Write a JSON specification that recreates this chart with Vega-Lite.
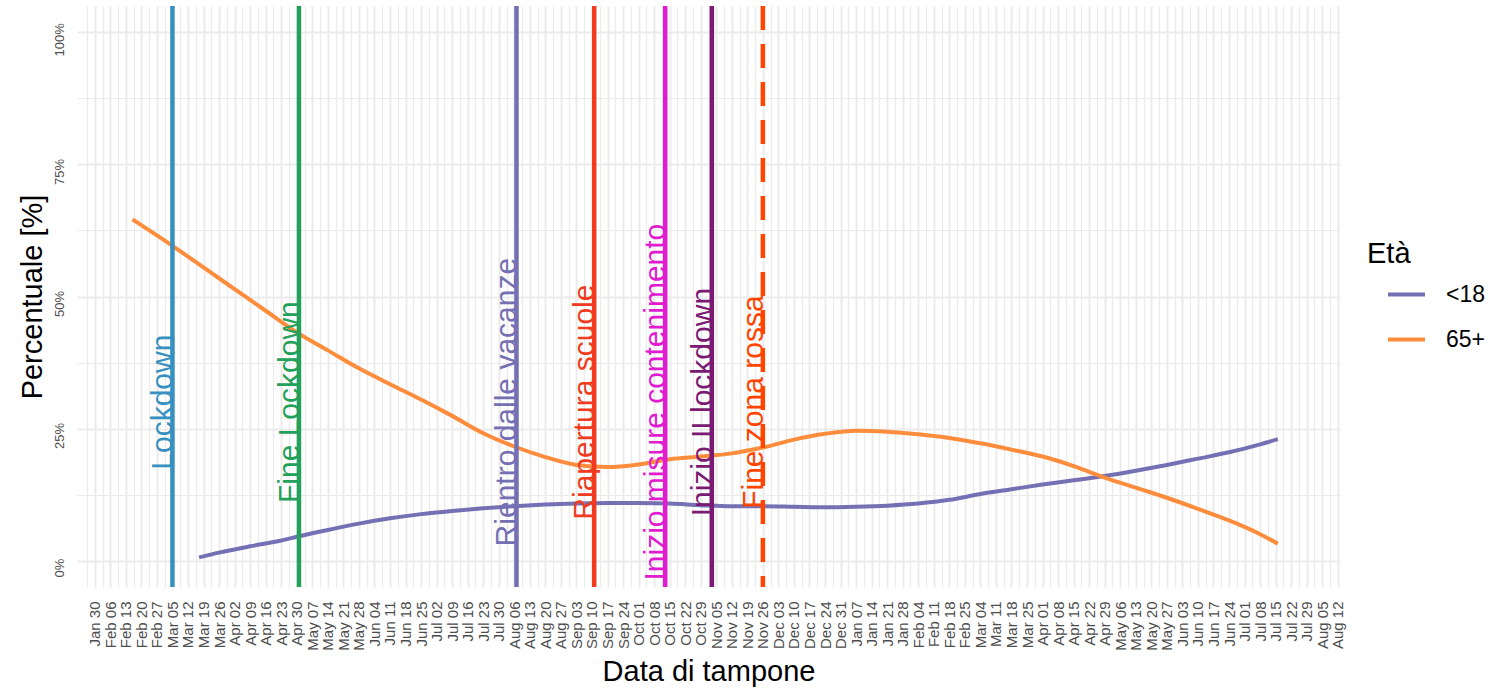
{
  "$schema": "https://vega.github.io/schema/vega-lite/v6.json",
  "width": 1263,
  "height": 581,
  "autosize": {"type": "none"},
  "padding": {"left": 77, "top": 6, "right": 150, "bottom": 103},
  "background": "white",
  "config": {"view": {"stroke": null}, "font": "Liberation Sans"},
  "datasets": {
    "eventi": [
      {"date": "2020-03-05", "evento": "Lockdown"},
      {"date": "2020-05-01", "evento": "Fine Lockdown"},
      {"date": "2020-08-07", "evento": "Rientro dalle vacanze"},
      {"date": "2020-09-11", "evento": "Riapertura scuole"},
      {"date": "2020-10-13", "evento": "Inizio misure contenimento"},
      {"date": "2020-11-03", "evento": "Inizio II lockdown"},
      {"date": "2020-11-26", "evento": "Fine zona rossa"}
    ],
    "curve": [
      {"date": "2020-03-17", "eta": "<18", "value": 0.6},
      {"date": "2020-03-26", "eta": "<18", "value": 1.5},
      {"date": "2020-04-09", "eta": "<18", "value": 2.7},
      {"date": "2020-04-23", "eta": "<18", "value": 3.8},
      {"date": "2020-04-30", "eta": "<18", "value": 4.5},
      {"date": "2020-05-14", "eta": "<18", "value": 5.8},
      {"date": "2020-05-28", "eta": "<18", "value": 7.0},
      {"date": "2020-06-11", "eta": "<18", "value": 8.0},
      {"date": "2020-06-25", "eta": "<18", "value": 8.8},
      {"date": "2020-07-09", "eta": "<18", "value": 9.4},
      {"date": "2020-07-23", "eta": "<18", "value": 9.9},
      {"date": "2020-08-06", "eta": "<18", "value": 10.3},
      {"date": "2020-08-20", "eta": "<18", "value": 10.6},
      {"date": "2020-09-03", "eta": "<18", "value": 10.8},
      {"date": "2020-09-17", "eta": "<18", "value": 10.9},
      {"date": "2020-10-01", "eta": "<18", "value": 10.9},
      {"date": "2020-10-15", "eta": "<18", "value": 10.8},
      {"date": "2020-10-29", "eta": "<18", "value": 10.5},
      {"date": "2020-11-12", "eta": "<18", "value": 10.3},
      {"date": "2020-11-26", "eta": "<18", "value": 10.3},
      {"date": "2020-12-10", "eta": "<18", "value": 10.2},
      {"date": "2020-12-24", "eta": "<18", "value": 10.1},
      {"date": "2021-01-07", "eta": "<18", "value": 10.2},
      {"date": "2021-01-21", "eta": "<18", "value": 10.4},
      {"date": "2021-02-04", "eta": "<18", "value": 10.8},
      {"date": "2021-02-18", "eta": "<18", "value": 11.5},
      {"date": "2021-03-04", "eta": "<18", "value": 12.6},
      {"date": "2021-03-18", "eta": "<18", "value": 13.5},
      {"date": "2021-04-01", "eta": "<18", "value": 14.4},
      {"date": "2021-04-15", "eta": "<18", "value": 15.2},
      {"date": "2021-04-29", "eta": "<18", "value": 16.0},
      {"date": "2021-05-13", "eta": "<18", "value": 17.0},
      {"date": "2021-05-27", "eta": "<18", "value": 18.1},
      {"date": "2021-06-10", "eta": "<18", "value": 19.3},
      {"date": "2021-06-24", "eta": "<18", "value": 20.5},
      {"date": "2021-07-08", "eta": "<18", "value": 22.0},
      {"date": "2021-07-16", "eta": "<18", "value": 23.0},
      {"date": "2020-02-16", "eta": "65+", "value": 64.6},
      {"date": "2020-03-05", "eta": "65+", "value": 59.6},
      {"date": "2020-03-19", "eta": "65+", "value": 55.5},
      {"date": "2020-04-02", "eta": "65+", "value": 51.4},
      {"date": "2020-04-16", "eta": "65+", "value": 47.3},
      {"date": "2020-04-30", "eta": "65+", "value": 43.2},
      {"date": "2020-05-14", "eta": "65+", "value": 39.8},
      {"date": "2020-05-28", "eta": "65+", "value": 36.4},
      {"date": "2020-06-11", "eta": "65+", "value": 33.4},
      {"date": "2020-06-25", "eta": "65+", "value": 30.5},
      {"date": "2020-07-09", "eta": "65+", "value": 27.4},
      {"date": "2020-07-23", "eta": "65+", "value": 24.1},
      {"date": "2020-08-06", "eta": "65+", "value": 21.6},
      {"date": "2020-08-20", "eta": "65+", "value": 19.6},
      {"date": "2020-09-03", "eta": "65+", "value": 18.1},
      {"date": "2020-09-17", "eta": "65+", "value": 17.7},
      {"date": "2020-10-01", "eta": "65+", "value": 18.2},
      {"date": "2020-10-15", "eta": "65+", "value": 19.2},
      {"date": "2020-10-29", "eta": "65+", "value": 19.7},
      {"date": "2020-11-12", "eta": "65+", "value": 20.3},
      {"date": "2020-11-26", "eta": "65+", "value": 21.4},
      {"date": "2020-12-10", "eta": "65+", "value": 22.9},
      {"date": "2020-12-24", "eta": "65+", "value": 24.0},
      {"date": "2021-01-07", "eta": "65+", "value": 24.6},
      {"date": "2021-01-21", "eta": "65+", "value": 24.4},
      {"date": "2021-02-04", "eta": "65+", "value": 23.9},
      {"date": "2021-02-18", "eta": "65+", "value": 23.2},
      {"date": "2021-03-04", "eta": "65+", "value": 22.2},
      {"date": "2021-03-18", "eta": "65+", "value": 21.0},
      {"date": "2021-04-01", "eta": "65+", "value": 19.7},
      {"date": "2021-04-15", "eta": "65+", "value": 17.9},
      {"date": "2021-04-29", "eta": "65+", "value": 15.7},
      {"date": "2021-05-13", "eta": "65+", "value": 13.8},
      {"date": "2021-05-27", "eta": "65+", "value": 11.9},
      {"date": "2021-06-10", "eta": "65+", "value": 9.8},
      {"date": "2021-06-24", "eta": "65+", "value": 7.6},
      {"date": "2021-07-08", "eta": "65+", "value": 5.0},
      {"date": "2021-07-16", "eta": "65+", "value": 3.2}
    ]
  },
  "layer": [
    {
      "data": {"name": "curve"},
      "mark": {"type": "line", "opacity": 0},
      "encoding": {
        "x": {
          "field": "date", "type": "temporal",
          "scale": {"domain": [{"year": 2020, "month": 1, "date": 22}, {"year": 2021, "month": 8, "date": 13}], "nice": false},
          "axis": {
            "orient": "top", "title": null, "labels": false, "ticks": false, "tickSize": 0, "domain": false,
            "grid": true, "gridColor": "#ebebeb", "gridWidth": 1.2,
            "values": [
              {"year": 2020, "month": 1, "date": 26, "hours": 12}, {"year": 2020, "month": 2, "date": 2, "hours": 12}, {"year": 2020, "month": 2, "date": 9, "hours": 12}, {"year": 2020, "month": 2, "date": 16, "hours": 12}, {"year": 2020, "month": 2, "date": 23, "hours": 12},
              {"year": 2020, "month": 3, "date": 1, "hours": 12}, {"year": 2020, "month": 3, "date": 8, "hours": 12}, {"year": 2020, "month": 3, "date": 15, "hours": 12}, {"year": 2020, "month": 3, "date": 22, "hours": 12}, {"year": 2020, "month": 3, "date": 29, "hours": 12},
              {"year": 2020, "month": 4, "date": 5, "hours": 12}, {"year": 2020, "month": 4, "date": 12, "hours": 12}, {"year": 2020, "month": 4, "date": 19, "hours": 12}, {"year": 2020, "month": 4, "date": 26, "hours": 12},
              {"year": 2020, "month": 5, "date": 3, "hours": 12}, {"year": 2020, "month": 5, "date": 10, "hours": 12}, {"year": 2020, "month": 5, "date": 17, "hours": 12}, {"year": 2020, "month": 5, "date": 24, "hours": 12}, {"year": 2020, "month": 5, "date": 31, "hours": 12},
              {"year": 2020, "month": 6, "date": 7, "hours": 12}, {"year": 2020, "month": 6, "date": 14, "hours": 12}, {"year": 2020, "month": 6, "date": 21, "hours": 12}, {"year": 2020, "month": 6, "date": 28, "hours": 12},
              {"year": 2020, "month": 7, "date": 5, "hours": 12}, {"year": 2020, "month": 7, "date": 12, "hours": 12}, {"year": 2020, "month": 7, "date": 19, "hours": 12}, {"year": 2020, "month": 7, "date": 26, "hours": 12},
              {"year": 2020, "month": 8, "date": 2, "hours": 12}, {"year": 2020, "month": 8, "date": 9, "hours": 12}, {"year": 2020, "month": 8, "date": 16, "hours": 12}, {"year": 2020, "month": 8, "date": 23, "hours": 12}, {"year": 2020, "month": 8, "date": 30, "hours": 12},
              {"year": 2020, "month": 9, "date": 6, "hours": 12}, {"year": 2020, "month": 9, "date": 13, "hours": 12}, {"year": 2020, "month": 9, "date": 20, "hours": 12}, {"year": 2020, "month": 9, "date": 27, "hours": 12},
              {"year": 2020, "month": 10, "date": 4, "hours": 12}, {"year": 2020, "month": 10, "date": 11, "hours": 12}, {"year": 2020, "month": 10, "date": 18, "hours": 12}, {"year": 2020, "month": 10, "date": 25, "hours": 12},
              {"year": 2020, "month": 11, "date": 1, "hours": 12}, {"year": 2020, "month": 11, "date": 8, "hours": 12}, {"year": 2020, "month": 11, "date": 15, "hours": 12}, {"year": 2020, "month": 11, "date": 22, "hours": 12}, {"year": 2020, "month": 11, "date": 29, "hours": 12},
              {"year": 2020, "month": 12, "date": 6, "hours": 12}, {"year": 2020, "month": 12, "date": 13, "hours": 12}, {"year": 2020, "month": 12, "date": 20, "hours": 12}, {"year": 2020, "month": 12, "date": 27, "hours": 12},
              {"year": 2021, "month": 1, "date": 3, "hours": 12}, {"year": 2021, "month": 1, "date": 10, "hours": 12}, {"year": 2021, "month": 1, "date": 17, "hours": 12}, {"year": 2021, "month": 1, "date": 24, "hours": 12}, {"year": 2021, "month": 1, "date": 31, "hours": 12},
              {"year": 2021, "month": 2, "date": 7, "hours": 12}, {"year": 2021, "month": 2, "date": 14, "hours": 12}, {"year": 2021, "month": 2, "date": 21, "hours": 12}, {"year": 2021, "month": 2, "date": 28, "hours": 12},
              {"year": 2021, "month": 3, "date": 7, "hours": 12}, {"year": 2021, "month": 3, "date": 14, "hours": 12}, {"year": 2021, "month": 3, "date": 21, "hours": 12}, {"year": 2021, "month": 3, "date": 28, "hours": 12},
              {"year": 2021, "month": 4, "date": 4, "hours": 12}, {"year": 2021, "month": 4, "date": 11, "hours": 12}, {"year": 2021, "month": 4, "date": 18, "hours": 12}, {"year": 2021, "month": 4, "date": 25, "hours": 12},
              {"year": 2021, "month": 5, "date": 2, "hours": 12}, {"year": 2021, "month": 5, "date": 9, "hours": 12}, {"year": 2021, "month": 5, "date": 16, "hours": 12}, {"year": 2021, "month": 5, "date": 23, "hours": 12}, {"year": 2021, "month": 5, "date": 30, "hours": 12},
              {"year": 2021, "month": 6, "date": 6, "hours": 12}, {"year": 2021, "month": 6, "date": 13, "hours": 12}, {"year": 2021, "month": 6, "date": 20, "hours": 12}, {"year": 2021, "month": 6, "date": 27, "hours": 12},
              {"year": 2021, "month": 7, "date": 4, "hours": 12}, {"year": 2021, "month": 7, "date": 11, "hours": 12}, {"year": 2021, "month": 7, "date": 18, "hours": 12}, {"year": 2021, "month": 7, "date": 25, "hours": 12},
              {"year": 2021, "month": 8, "date": 1, "hours": 12}, {"year": 2021, "month": 8, "date": 8, "hours": 12}
            ]
          }
        },
        "y": {
          "field": "value", "type": "quantitative",
          "scale": {"domain": [-5, 105], "nice": false, "zero": false},
          "axis": {"orient": "right", "title": null, "labels": false, "ticks": false, "tickSize": 0, "domain": false, "grid": true, "gridColor": "#ebebeb", "gridWidth": 1.2, "values": [12.5, 37.5, 62.5, 87.5]}
        }
      }
    },
    {
      "data": {"name": "curve"},
      "mark": {"type": "line", "strokeWidth": 4, "interpolate": "monotone"},
      "encoding": {
        "x": {
          "field": "date", "type": "temporal",
          "axis": {
            "orient": "bottom", "format": "%b %d", "labelAngle": 270, "labelAlign": "right", "labelBaseline": "middle",
            "labelFontSize": 15, "labelColor": "#4d4d4d", "labelPadding": 14, "ticks": false, "tickSize": 0, "domain": false,
            "labelOverlap": false, "labelFlush": false, "labelBound": false,
            "grid": true, "gridColor": "#ebebeb", "gridWidth": 2,
            "title": "Data di tampone", "titleFontSize": 29, "titleFontWeight": "normal", "titleColor": "#000000", "titleY": 93, "titleBaseline": "alphabetic",
            "values": [
              {"year": 2020, "month": 1, "date": 30}, {"year": 2020, "month": 2, "date": 6}, {"year": 2020, "month": 2, "date": 13}, {"year": 2020, "month": 2, "date": 20}, {"year": 2020, "month": 2, "date": 27},
              {"year": 2020, "month": 3, "date": 5}, {"year": 2020, "month": 3, "date": 12}, {"year": 2020, "month": 3, "date": 19}, {"year": 2020, "month": 3, "date": 26},
              {"year": 2020, "month": 4, "date": 2}, {"year": 2020, "month": 4, "date": 9}, {"year": 2020, "month": 4, "date": 16}, {"year": 2020, "month": 4, "date": 23}, {"year": 2020, "month": 4, "date": 30},
              {"year": 2020, "month": 5, "date": 7}, {"year": 2020, "month": 5, "date": 14}, {"year": 2020, "month": 5, "date": 21}, {"year": 2020, "month": 5, "date": 28},
              {"year": 2020, "month": 6, "date": 4}, {"year": 2020, "month": 6, "date": 11}, {"year": 2020, "month": 6, "date": 18}, {"year": 2020, "month": 6, "date": 25},
              {"year": 2020, "month": 7, "date": 2}, {"year": 2020, "month": 7, "date": 9}, {"year": 2020, "month": 7, "date": 16}, {"year": 2020, "month": 7, "date": 23}, {"year": 2020, "month": 7, "date": 30},
              {"year": 2020, "month": 8, "date": 6}, {"year": 2020, "month": 8, "date": 13}, {"year": 2020, "month": 8, "date": 20}, {"year": 2020, "month": 8, "date": 27},
              {"year": 2020, "month": 9, "date": 3}, {"year": 2020, "month": 9, "date": 10}, {"year": 2020, "month": 9, "date": 17}, {"year": 2020, "month": 9, "date": 24},
              {"year": 2020, "month": 10, "date": 1}, {"year": 2020, "month": 10, "date": 8}, {"year": 2020, "month": 10, "date": 15}, {"year": 2020, "month": 10, "date": 22}, {"year": 2020, "month": 10, "date": 29},
              {"year": 2020, "month": 11, "date": 5}, {"year": 2020, "month": 11, "date": 12}, {"year": 2020, "month": 11, "date": 19}, {"year": 2020, "month": 11, "date": 26},
              {"year": 2020, "month": 12, "date": 3}, {"year": 2020, "month": 12, "date": 10}, {"year": 2020, "month": 12, "date": 17}, {"year": 2020, "month": 12, "date": 24}, {"year": 2020, "month": 12, "date": 31},
              {"year": 2021, "month": 1, "date": 7}, {"year": 2021, "month": 1, "date": 14}, {"year": 2021, "month": 1, "date": 21}, {"year": 2021, "month": 1, "date": 28},
              {"year": 2021, "month": 2, "date": 4}, {"year": 2021, "month": 2, "date": 11}, {"year": 2021, "month": 2, "date": 18}, {"year": 2021, "month": 2, "date": 25},
              {"year": 2021, "month": 3, "date": 4}, {"year": 2021, "month": 3, "date": 11}, {"year": 2021, "month": 3, "date": 18}, {"year": 2021, "month": 3, "date": 25},
              {"year": 2021, "month": 4, "date": 1}, {"year": 2021, "month": 4, "date": 8}, {"year": 2021, "month": 4, "date": 15}, {"year": 2021, "month": 4, "date": 22}, {"year": 2021, "month": 4, "date": 29},
              {"year": 2021, "month": 5, "date": 6}, {"year": 2021, "month": 5, "date": 13}, {"year": 2021, "month": 5, "date": 20}, {"year": 2021, "month": 5, "date": 27},
              {"year": 2021, "month": 6, "date": 3}, {"year": 2021, "month": 6, "date": 10}, {"year": 2021, "month": 6, "date": 17}, {"year": 2021, "month": 6, "date": 24},
              {"year": 2021, "month": 7, "date": 1}, {"year": 2021, "month": 7, "date": 8}, {"year": 2021, "month": 7, "date": 15}, {"year": 2021, "month": 7, "date": 22}, {"year": 2021, "month": 7, "date": 29},
              {"year": 2021, "month": 8, "date": 5}, {"year": 2021, "month": 8, "date": 12}
            ]
          }
        },
        "y": {
          "field": "value", "type": "quantitative",
          "axis": {
            "orient": "left", "values": [0, 25, 50, 75, 100], "labelExpr": "datum.value + '%'",
            "labelAngle": 270, "labelAlign": "center", "labelBaseline": "bottom", "labelFontSize": 13, "labelColor": "#4d4d4d",
            "labelPadding": 11, "labelOffset": 7, "ticks": false, "tickSize": 0, "domain": false,
            "grid": true, "gridColor": "#ebebeb", "gridWidth": 2,
            "title": "Percentuale [%]", "titleFontSize": 29, "titleFontWeight": "normal", "titleColor": "#000000",
            "titleX": -36, "titleBaseline": "alphabetic"
          }
        },
        "color": {
          "field": "eta", "type": "nominal",
          "scale": {
            "domain": ["<18", "65+", "Lockdown", "Fine Lockdown", "Rientro dalle vacanze", "Riapertura scuole", "Inizio misure contenimento", "Inizio II lockdown", "Fine zona rossa"],
            "range": ["#7570b3", "#fd8d3c", "#3690c0", "#23a05a", "#7570b3", "#f03b20", "#e01bd0", "#7a1a72", "#ff4500"]
          },
          "legend": {
            "values": ["<18", "65+"],
            "orient": "none", "legendX": 1290, "legendY": 234, "title": "Età",
            "titleFontSize": 29, "titleFontWeight": "normal", "titleColor": "#000000",
            "labelFontSize": 23, "labelColor": "#000000",
            "symbolType": "stroke", "symbolSize": 1369, "symbolStrokeWidth": 4,
            "symbolOffset": 19, "labelOffset": 19, "rowPadding": 12, "titlePadding": 5, "padding": 0
          }
        }
      }
    },
    {
      "data": {"name": "eventi"},
      "mark": {"type": "rule", "strokeWidth": 4.5},
      "encoding": {
        "x": {"field": "date", "type": "temporal", "axis": null},
        "color": {"field": "evento", "type": "nominal"},
        "strokeDash": {
          "field": "evento", "type": "nominal", "legend": null,
          "scale": {
            "domain": ["Lockdown", "Fine Lockdown", "Rientro dalle vacanze", "Riapertura scuole", "Inizio misure contenimento", "Inizio II lockdown", "Fine zona rossa"],
            "range": [[1, 0], [1, 0], [1, 0], [1, 0], [1, 0], [1, 0], [24, 14]]
          }
        }
      }
    },
    {
      "data": {"name": "eventi"},
      "mark": {"type": "text", "angle": 270, "align": "center", "baseline": "alphabetic", "fontSize": 30, "font": "Liberation Sans"},
      "encoding": {
        "x": {"field": "date", "type": "temporal", "axis": null},
        "y": {"datum": 30, "type": "quantitative", "axis": null},
        "text": {"field": "evento"},
        "color": {"field": "evento", "type": "nominal"}
      }
    }
  ],
  "resolve": {
    "axis": {"x": "independent", "y": "independent"}
  }
}
